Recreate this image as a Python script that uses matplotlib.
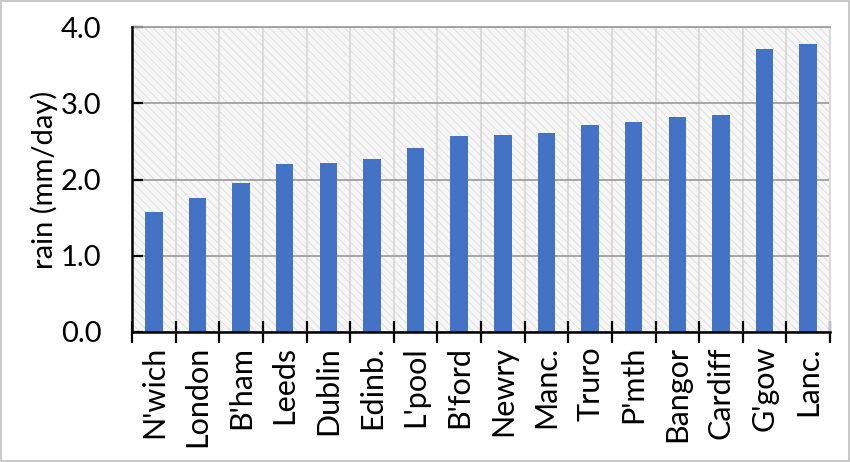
import matplotlib.pyplot as plt
from matplotlib.patches import Rectangle
from matplotlib.ticker import MultipleLocator, FixedLocator

# sites, sorted by rainfall
sites = ["N'wich", "London", "B'ham", "Leeds", "Dublin", "Edinb.", "L'pool", "B'ford",
         "Newry", "Manc.", "Truro", "P'mth", "Bangor", "Cardiff", "G'gow", "Lanc."]
rain = [1.57, 1.76, 1.96, 2.20, 2.22, 2.27, 2.41, 2.57,
        2.59, 2.61, 2.71, 2.75, 2.82, 2.85, 3.71, 3.78]

plt.rcParams['font.family'] = ['Lato', 'DejaVu Sans']
plt.rcParams['hatch.linewidth'] = 0.6

fig = plt.figure(figsize=(8.5, 4.62), dpi=100)
ax = fig.add_axes([132/850, 130/462, 698/850, 305/462])

n = len(sites)
x = list(range(n))

# hatched plot area
ax.set_facecolor('white')
ax.add_patch(Rectangle((0, 0), 1, 1, transform=ax.transAxes, facecolor='#f6f6f6',
                       edgecolor='#dcdcdc', hatch='\\\\\\\\', linewidth=0, zorder=0))

ax.bar(x, rain, width=0.4, color='#4472C4', zorder=3)

ax.set_xlim(-0.5, n - 0.5)
ax.set_ylim(0, 4.0)
ax.yaxis.set_major_locator(MultipleLocator(1.0))
ax.yaxis.set_major_formatter(plt.FuncFormatter(lambda v, p: f'{v:.1f}'))

ax.set_xticks(x)
ax.set_xticklabels(sites, rotation=90)
ax.tick_params(axis='x', which='major', length=0, labelsize=22, pad=10)
ax.xaxis.set_minor_locator(FixedLocator([i - 0.5 for i in range(n + 1)]))
ax.tick_params(axis='x', which='minor', direction='inout', length=16, width=1.6, color='black')
ax.tick_params(axis='y', direction='in', length=8, width=1.6, labelsize=21, pad=22)

ax.grid(axis='y', color='#a0a0a0', linewidth=1.3, zorder=1)
ax.grid(axis='x', which='minor', color='#d9d9d9', linewidth=1.3, zorder=1)
ax.set_axisbelow(True)

for s in ['top', 'right']:
    ax.spines[s].set_color('#a0a0a0')
    ax.spines[s].set_linewidth(1.3)
ax.spines['right'].set_color('#d9d9d9')
for s in ['left', 'bottom']:
    ax.spines[s].set_color('black')
    ax.spines[s].set_linewidth(1.8)
    ax.spines[s].set_zorder(4)

ax.set_ylabel('rain (mm/day)', fontsize=21, labelpad=2)

# light frame round the figure
fig.patches.append(Rectangle((0.001, 0.002), 0.998, 0.996, transform=fig.transFigure,
                             fill=False, edgecolor='#bfbfbf', linewidth=1.2))

fig.savefig('out.png', dpi=100)
